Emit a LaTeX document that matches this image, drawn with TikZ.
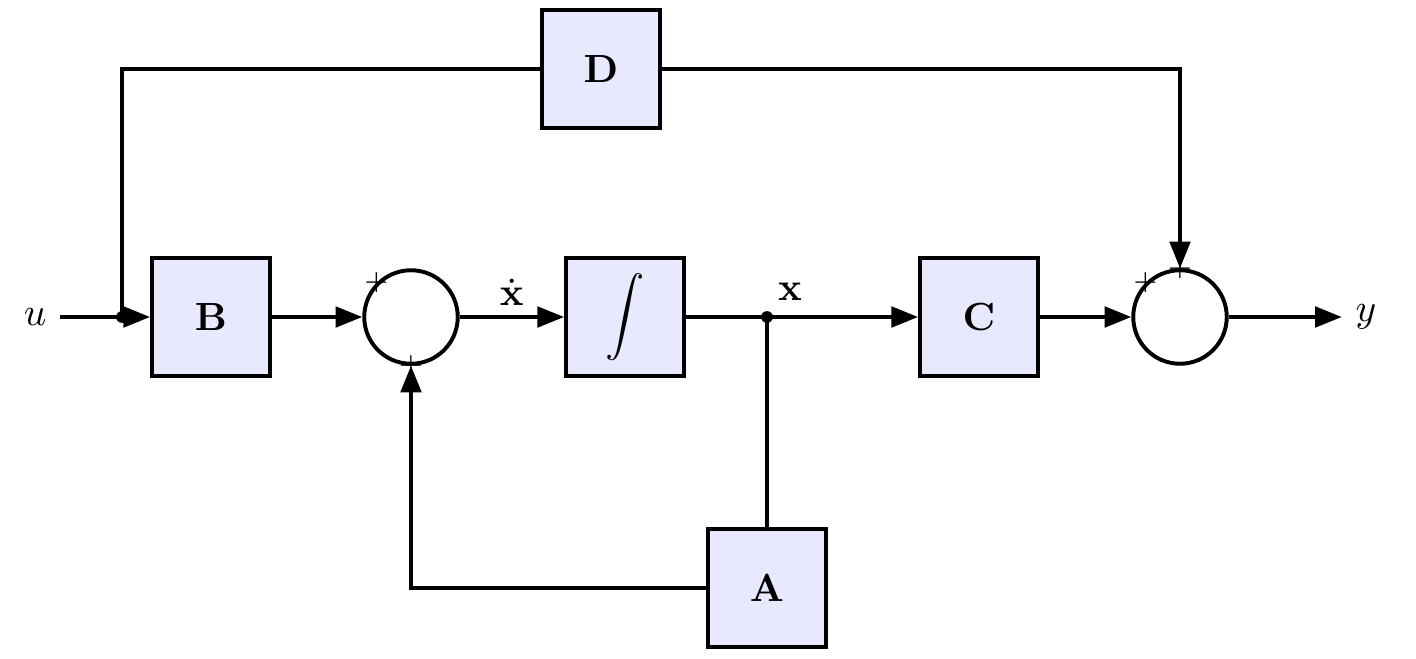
\documentclass[tikz,border=0pt]{standalone}
\usetikzlibrary{arrows.meta}
\begin{document}
\begin{tikzpicture}[x=0.2545pt,y=-0.2545pt,
  block/.style={draw, fill=blue!9, line width=1pt, minimum size=30pt, inner sep=0pt},
  sumnode/.style={draw, circle, line width=1pt, minimum size=23.8pt, inner sep=0pt},
  wire/.style={line width=1pt},
  conn/.style={line width=1pt, -{Triangle[length=6.8pt,width=5.2pt]}},
  sign/.style={font=\scriptsize, inner sep=0pt}]
\useasboundingbox (0,0) rectangle (1416,659);
\node[block] (B) at (211,317) {$\mathbf{B}$};
\node[sumnode] (s1) at (411,317) {};
\node[block] (I) at (625,317) {$\displaystyle\int$};
\coordinate (j) at (767,317);
\node[block] (C) at (979,317) {$\mathbf{C}$};
\node[sumnode] (s2) at (1180,317) {};
\node[block] (D) at (601,69) {$\mathbf{D}$};
\node[block] (A) at (767,588) {$\mathbf{A}$};
\node (u) at (35,317) {$u$};
\node (y) at (1366,317) {$y$};
\coordinate (ju) at (122,317);
\node (xl) at (790,292) {$\mathbf{x}$};

\fill (ju) circle (1.5pt);
\draw[wire] (ju) |- (D);
\draw[conn] (u) -- (B);
\draw[conn] (D) -| (s2);
\draw[conn] (B) -- (s1);
\draw[conn] (s1) -- (I) node[midway, above, yshift=-1pt] (xd) {$\dot{\mathbf{x}}$};
\draw[conn] (I) -- (C);
\fill (j) circle (1.5pt);
\draw[wire] (A.north) -- (j);
\draw[conn] (A) -| (s1);
\draw[conn] (C) -- (s2);
\draw[conn] (s2) -- (y);

\node[sign] at (s1.135) {$+$};
\node[sign] at (s1.270) {$+$};
\node[sign] at (s2.135) {$+$};
\node[sign] at (s2.90) {$+$};
\end{tikzpicture}
\end{document}
